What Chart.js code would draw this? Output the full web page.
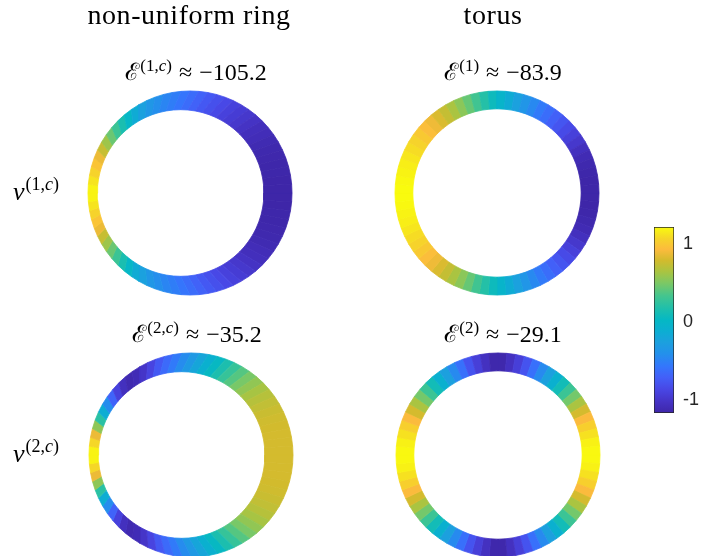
<!DOCTYPE html>
<html><head><meta charset="utf-8">
<script src="https://cdn.jsdelivr.net/npm/chart.js@4/dist/chart.umd.min.js"></script>
<style>
html,body{margin:0;padding:0;background:#fff;width:701px;height:556px;overflow:hidden;}
#wrap{position:relative;width:701px;height:556px;overflow:hidden;background:#fff;}
canvas{position:absolute;}
#txt{position:absolute;left:0;top:0;pointer-events:none;}
#txt text{fill:#000;}
</style></head>
<body><div id="wrap">
<canvas id="r1c" width="210" height="210" style="left:85px;top:87.5px;"></canvas>
<canvas id="r1" width="210" height="210" style="left:392px;top:87.5px;"></canvas>
<canvas id="r2c" width="210" height="210" style="left:86px;top:349.5px;"></canvas>
<canvas id="r2" width="210" height="210" style="left:392.5px;top:349.5px;"></canvas>
<canvas id="cb" width="47" height="206" style="left:654px;top:217px;"></canvas>
<svg id="txt" width="701" height="556" xmlns="http://www.w3.org/2000/svg">
  <text x="189" y="24" text-anchor="middle" font-size="28" letter-spacing="0.6">non-uniform ring</text>
  <text x="493" y="24" text-anchor="middle" font-size="28" letter-spacing="0.6">torus</text>
  <text x="196" y="80" text-anchor="middle" font-size="24">ℰ<tspan dx="1" dy="-9" font-size="17">(1,<tspan font-style="italic">c</tspan>)</tspan><tspan dx="7" dy="9">≈</tspan><tspan dx="7">−105.2</tspan></text>
  <text x="503" y="80" text-anchor="middle" font-size="24">ℰ<tspan dx="1" dy="-9" font-size="17">(1)</tspan><tspan dx="7" dy="9">≈</tspan><tspan dx="7">−83.9</tspan></text>
  <text x="197" y="342" text-anchor="middle" font-size="24">ℰ<tspan dx="1" dy="-9" font-size="17">(2,<tspan font-style="italic">c</tspan>)</tspan><tspan dx="7" dy="9">≈</tspan><tspan dx="7">−35.2</tspan></text>
  <text x="503" y="342" text-anchor="middle" font-size="24">ℰ<tspan dx="1" dy="-9" font-size="17">(2)</tspan><tspan dx="7" dy="9">≈</tspan><tspan dx="7">−29.1</tspan></text>
  <text x="13" y="200" font-size="26"><tspan font-style="italic">v</tspan><tspan dx="1" dy="-10" font-size="18">(1,<tspan font-style="italic">c</tspan>)</tspan></text>
  <text x="13" y="462" font-size="26"><tspan font-style="italic">v</tspan><tspan dx="1" dy="-10" font-size="18">(2,<tspan font-style="italic">c</tspan>)</tspan></text>
</svg>
</div>
<script>
// pick an installed serif face for the LaTeX-like labels
(function(){
  const cands = ['Liberation Serif','DejaVu Serif','Noto Serif','Tinos','Times New Roman','Times','FreeSerif','Nimbus Roman','Nimbus Roman No9 L','C059','P052','Noto Serif CJK SC','Noto Serif CJK JP','Source Serif Pro','Gelasio','Lora','Merriweather'];
  const c = document.createElement('canvas').getContext('2d');
  const s = 'mmmmmmmmmmlliWQ@#rn0123';
  c.font = '72px monospace'; const a = c.measureText(s).width;
  c.font = '72px sans-serif'; const b = c.measureText(s).width;
  let pick = null;
  for (const n of cands) {
    c.font = '72px "' + n + '", monospace'; const a2 = c.measureText(s).width;
    c.font = '72px "' + n + '", sans-serif'; const b2 = c.measureText(s).width;
    if (a2 !== a && b2 !== b) { pick = n; break; }
  }
  const fam = (pick ? '"' + pick + '", ' : '') + 'serif';
  document.getElementById('txt').setAttribute('font-family', fam);
  document.getElementById('txt').style.fontFamily = fam;
})();

// segment values, counter-clockwise from the +x direction, 72 segments of 5 degrees
const modeNonUniform1 = [-1.16,-1.16,-1.15,-1.15,-1.14,-1.13,-1.11,-1.08,-1.06,-1.02,-0.98,-0.94,-0.90,-0.85,-0.80,-0.75,-0.69,-0.63,-0.57,-0.52,-0.47,-0.41,-0.34,-0.25,-0.14,0.01,0.15,0.30,0.45,0.61,0.75,0.88,0.98,1.06,1.13,1.19,
  1.19,1.13,1.06,0.98,0.88,0.75,0.61,0.45,0.30,0.15,0.01,-0.14,-0.25,-0.34,-0.41,-0.47,-0.52,-0.57,-0.63,-0.69,-0.75,-0.80,-0.85,-0.90,-0.94,-0.98,-1.02,-1.06,-1.08,-1.11,-1.13,-1.14,-1.15,-1.15,-1.16,-1.16];
const modeTorus1 = [-1.16,-1.16,-1.15,-1.13,-1.10,-1.05,-0.98,-0.91,-0.84,-0.77,-0.70,-0.62,-0.54,-0.45,-0.35,-0.25,-0.14,-0.03,0.08,0.20,0.32,0.44,0.55,0.65,0.74,0.82,0.89,0.95,1.01,1.06,1.10,1.14,1.17,1.19,1.21,1.22,
  1.22,1.21,1.19,1.17,1.14,1.10,1.06,1.01,0.95,0.89,0.82,0.74,0.65,0.55,0.44,0.32,0.20,0.08,-0.03,-0.14,-0.25,-0.35,-0.45,-0.54,-0.62,-0.70,-0.77,-0.84,-0.91,-0.98,-1.05,-1.10,-1.13,-1.15,-1.16,-1.16];
const modeNonUniform2 = [0.80,0.80,0.80,0.79,0.78,0.76,0.73,0.69,0.64,0.57,0.49,0.39,0.28,0.16,0.04,-0.08,-0.20,-0.32,-0.43,-0.54,-0.64,-0.75,-0.88,-1.00,-1.09,-1.12,-1.05,-0.90,-0.68,-0.42,-0.12,0.22,0.56,0.88,1.08,1.19,
  1.19,1.08,0.88,0.56,0.22,-0.12,-0.42,-0.68,-0.90,-1.05,-1.12,-1.09,-1.00,-0.88,-0.75,-0.64,-0.54,-0.43,-0.32,-0.20,-0.08,0.04,0.16,0.28,0.39,0.49,0.57,0.64,0.69,0.73,0.76,0.78,0.79,0.80,0.80,0.80];
const modeTorus2 = [1.21,1.18,1.12,1.04,0.93,0.80,0.65,0.48,0.30,0.11,-0.08,-0.26,-0.44,-0.60,-0.78,-0.92,-1.04,-1.14,-1.14,-1.04,-0.92,-0.78,-0.60,-0.44,-0.26,-0.08,0.11,0.30,0.48,0.65,0.80,0.93,1.04,1.12,1.18,1.21,
  1.21,1.18,1.12,1.04,0.93,0.80,0.65,0.48,0.30,0.11,-0.08,-0.26,-0.44,-0.60,-0.78,-0.92,-1.04,-1.14,-1.14,-1.04,-0.92,-0.78,-0.60,-0.44,-0.26,-0.08,0.11,0.30,0.48,0.65,0.80,0.93,1.04,1.12,1.18,1.21];
const colorLimits = [-1.16, 1.22];
const colorbarTicks = [-1, 0, 1];

// ring geometry (outer radius, inner radius, inner-circle x offset)
const torusGeom = {ro: 1.2, ri: 0.99, ic: 0};
const ringGeom = {ro: 1.2, ri: 0.98, ic: -0.11};

// parula colormap stops
const parulaStops = [
  [0.000,[62,38,168]],[0.060,[69,51,197]],[0.125,[72,70,228]],[0.190,[67,95,248]],
  [0.250,[52,118,252]],[0.320,[35,145,235]],[0.380,[28,160,222]],[0.440,[12,174,210]],
  [0.500,[5,184,196]],[0.560,[30,191,172]],[0.630,[68,197,142]],[0.700,[125,200,100]],
  [0.760,[170,196,65]],[0.820,[210,187,45]],[0.880,[252,187,61]],[0.940,[245,214,40]],
  [1.000,[249,251,14]]];
function parulaT(t){
  t = Math.max(0, Math.min(1, t));
  for (let i = 1; i < parulaStops.length; i++) {
    const [t1, c1] = parulaStops[i];
    if (t <= t1) {
      const [t0, c0] = parulaStops[i-1];
      const f = (t - t0) / (t1 - t0);
      return 'rgb(' + c0.map((c, j) => Math.round(c + f*(c1[j]-c))).join(',') + ')';
    }
  }
  return 'rgb(249,251,14)';
}
function parula(v){ return parulaT((v - colorLimits[0]) / (colorLimits[1] - colorLimits[0])); }

function ringChart(id, vals, g){
  const N = vals.length;
  const datasets = vals.map((v, k) => {
    const a0 = 2*Math.PI*k/N, a1 = 2*Math.PI*(k+1)/N;
    const pts = [
      {x: g.ro*Math.cos(a0), y: g.ro*Math.sin(a0)},
      {x: g.ro*Math.cos(a1), y: g.ro*Math.sin(a1)},
      {x: g.ic + g.ri*Math.cos(a1), y: g.ri*Math.sin(a1)},
      {x: g.ic + g.ri*Math.cos(a0), y: g.ri*Math.sin(a0)},
      {x: g.ro*Math.cos(a0), y: g.ro*Math.sin(a0)}
    ];
    const c = parula(v);
    return {data: pts, showLine: true, fill: 'shape', backgroundColor: c, borderColor: c,
            borderWidth: 0.8, pointRadius: 0, pointHoverRadius: 0, tension: 0};
  });
  const lim = 1.235;
  new Chart(document.getElementById(id), {
    type: 'scatter',
    data: {datasets},
    options: {
      responsive: false, animation: false, events: [],
      layout: {padding: 0},
      plugins: {legend: {display: false}, tooltip: {enabled: false}},
      scales: {
        x: {type: 'linear', min: -lim, max: lim, display: false},
        y: {type: 'linear', min: -lim, max: lim, display: false}
      }
    }
  });
}
ringChart('r1c', modeNonUniform1, ringGeom);
ringChart('r1', modeTorus1, torusGeom);
ringChart('r2c', modeNonUniform2, ringGeom);
ringChart('r2', modeTorus2, torusGeom);

new Chart(document.getElementById('cb'), {
  type: 'bar',
  data: {labels: ['c'], datasets: [{
    data: [colorLimits.slice()],
    backgroundColor: (ctx) => {
      const ch = ctx.chart;
      if (!ch.chartArea) return '#888';
      const y = ch.scales.y;
      const g = ch.ctx.createLinearGradient(0, y.getPixelForValue(colorLimits[0]), 0, y.getPixelForValue(colorLimits[1]));
      parulaStops.forEach(([t, c]) => g.addColorStop(t, 'rgb(' + c.join(',') + ')'));
      return g;
    },
    borderColor: '#262626', borderWidth: 1, borderSkipped: false,
    barPercentage: 1, categoryPercentage: 1
  }]},
  options: {
    responsive: false, animation: false, events: [],
    layout: {padding: {top: 10, bottom: 10, left: 0, right: 0}},
    plugins: {legend: {display: false}, tooltip: {enabled: false}},
    scales: {
      x: {display: false},
      y: {position: 'right', min: colorLimits[0], max: colorLimits[1], z: 1,
          afterBuildTicks: (s) => { s.ticks = colorbarTicks.map(v => ({value: v})); },
          afterFit: (s) => { s.width = 27; s.paddingTop = 0; s.paddingBottom = 0; },
          grid: {display: true, drawOnChartArea: false, drawTicks: true, tickLength: -4, color: '#262626', lineWidth: 1},
          border: {display: false},
          ticks: {padding: 13, color: '#262626', font: {family: 'Liberation Sans', size: 18},
                  callback: (v) => String(v)}}
    }
  }
});
</script>
</body></html>
